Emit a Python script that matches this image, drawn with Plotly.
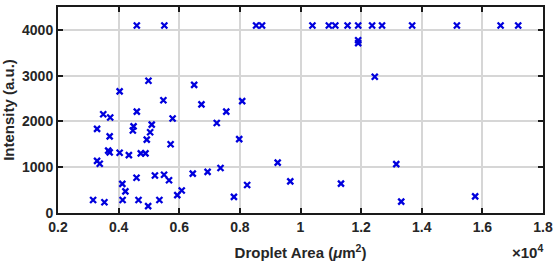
import plotly.graph_objects as go

# Droplet area (um^2) and intensity (a.u.)
droplet_area = [
    # saturated points (top row)
    4600, 5508, 8535, 8732, 10394, 10935, 11149, 11552, 11903, 12362,
    12690, 13683, 15159, 16601, 17182,
    # the rest
    4984, 4033, 5476, 4600, 3492, 3722, 5781, 5092, 3289, 4492,
    4469, 5040, 3705, 4928, 5715, 3289, 3377, 3656, 3705, 4033,
    4338, 4731, 4886, 4122, 4223, 4590, 5197, 5499, 5663, 3158,
    3531, 4131, 4656, 4974, 5345, 5935, 6082, 6492, 6732, 8076,
    7551, 7237, 7978, 9247, 6446, 6935, 7361, 9663, 8240, 7804,
    11335, 13159, 13323, 15762, 12450, 11903, 11903,
]
intensity = [
    4095, 4095, 4095, 4095, 4095, 4095, 4095, 4095, 4095, 4095,
    4095, 4095, 4095, 4095, 4095,
    2890, 2656, 2464, 2214, 2158, 2086, 2064, 1930, 1838, 1893,
    1801, 1765, 1673, 1603, 1502, 1139, 1075, 1363, 1325, 1316,
    1263, 1303, 1303, 637, 472, 769, 818, 835, 716, 284,
    235, 284, 284, 150, 284, 391, 491, 2800, 2372, 2443,
    2214, 1966, 1613, 1100, 861, 898, 983, 690, 611, 353,
    641, 1068, 248, 363, 2977, 3774, 3710,
]

x_ticks = [2000, 4000, 6000, 8000, 10000, 12000, 14000, 16000, 18000]
x_ticklabels = ["0.2", "0.4", "0.6", "0.8", "1", "1.2", "1.4", "1.6", "1.8"]
y_ticks = [0, 1000, 2000, 3000, 4000]

font_family = "Liberation Sans, Arial, sans-serif"
text_color = "#262626"

fig = go.Figure()
fig.add_trace(go.Scatter(
    x=droplet_area,
    y=intensity,
    mode="markers",
    marker=dict(symbol="x-thin", size=6, line=dict(width=2.3, color="#0000dd"),
                color="#0000dd"),
    showlegend=False,
))

axis_common = dict(
    showline=True, linecolor="#1a1a1a", linewidth=2, mirror="ticks",
    ticks="inside", ticklen=5, tickwidth=1.5, tickcolor="#1a1a1a",
    showgrid=True, gridcolor="#d6d6d6", gridwidth=1.5, zeroline=False,
    tickfont=dict(family=font_family, size=14, color=text_color, weight="bold"),
)

fig.update_xaxes(
    range=[2000, 18000], tickvals=x_ticks, ticktext=x_ticklabels,
    title=dict(text="Droplet Area (<i>μ</i>m<sup>2</sup>)", standoff=14,
               font=dict(family=font_family, size=15, color=text_color, weight="bold")),
    **axis_common,
)
fig.update_yaxes(
    range=[0, 4500], tickvals=y_ticks,
    title=dict(text="Intensity (a.u.)", standoff=6,
               font=dict(family=font_family, size=15, color=text_color, weight="bold")),
    **axis_common,
)

fig.add_annotation(
    text="×10<sup>4</sup>", xref="paper", yref="paper", x=0.968, y=-0.185,
    xanchor="center", yanchor="middle", showarrow=False,
    font=dict(family=font_family, size=15, color=text_color, weight="bold"),
)

fig.update_layout(
    width=558, height=264,
    margin=dict(l=58, r=11, t=5, b=50),
    plot_bgcolor="white", paper_bgcolor="white",
)

# body has a default 8px margin, drop it so the figure sits at the window corner
fig.write_html("out.html", config={"displayModeBar": False},
               post_script="document.body.style.margin='0';")
